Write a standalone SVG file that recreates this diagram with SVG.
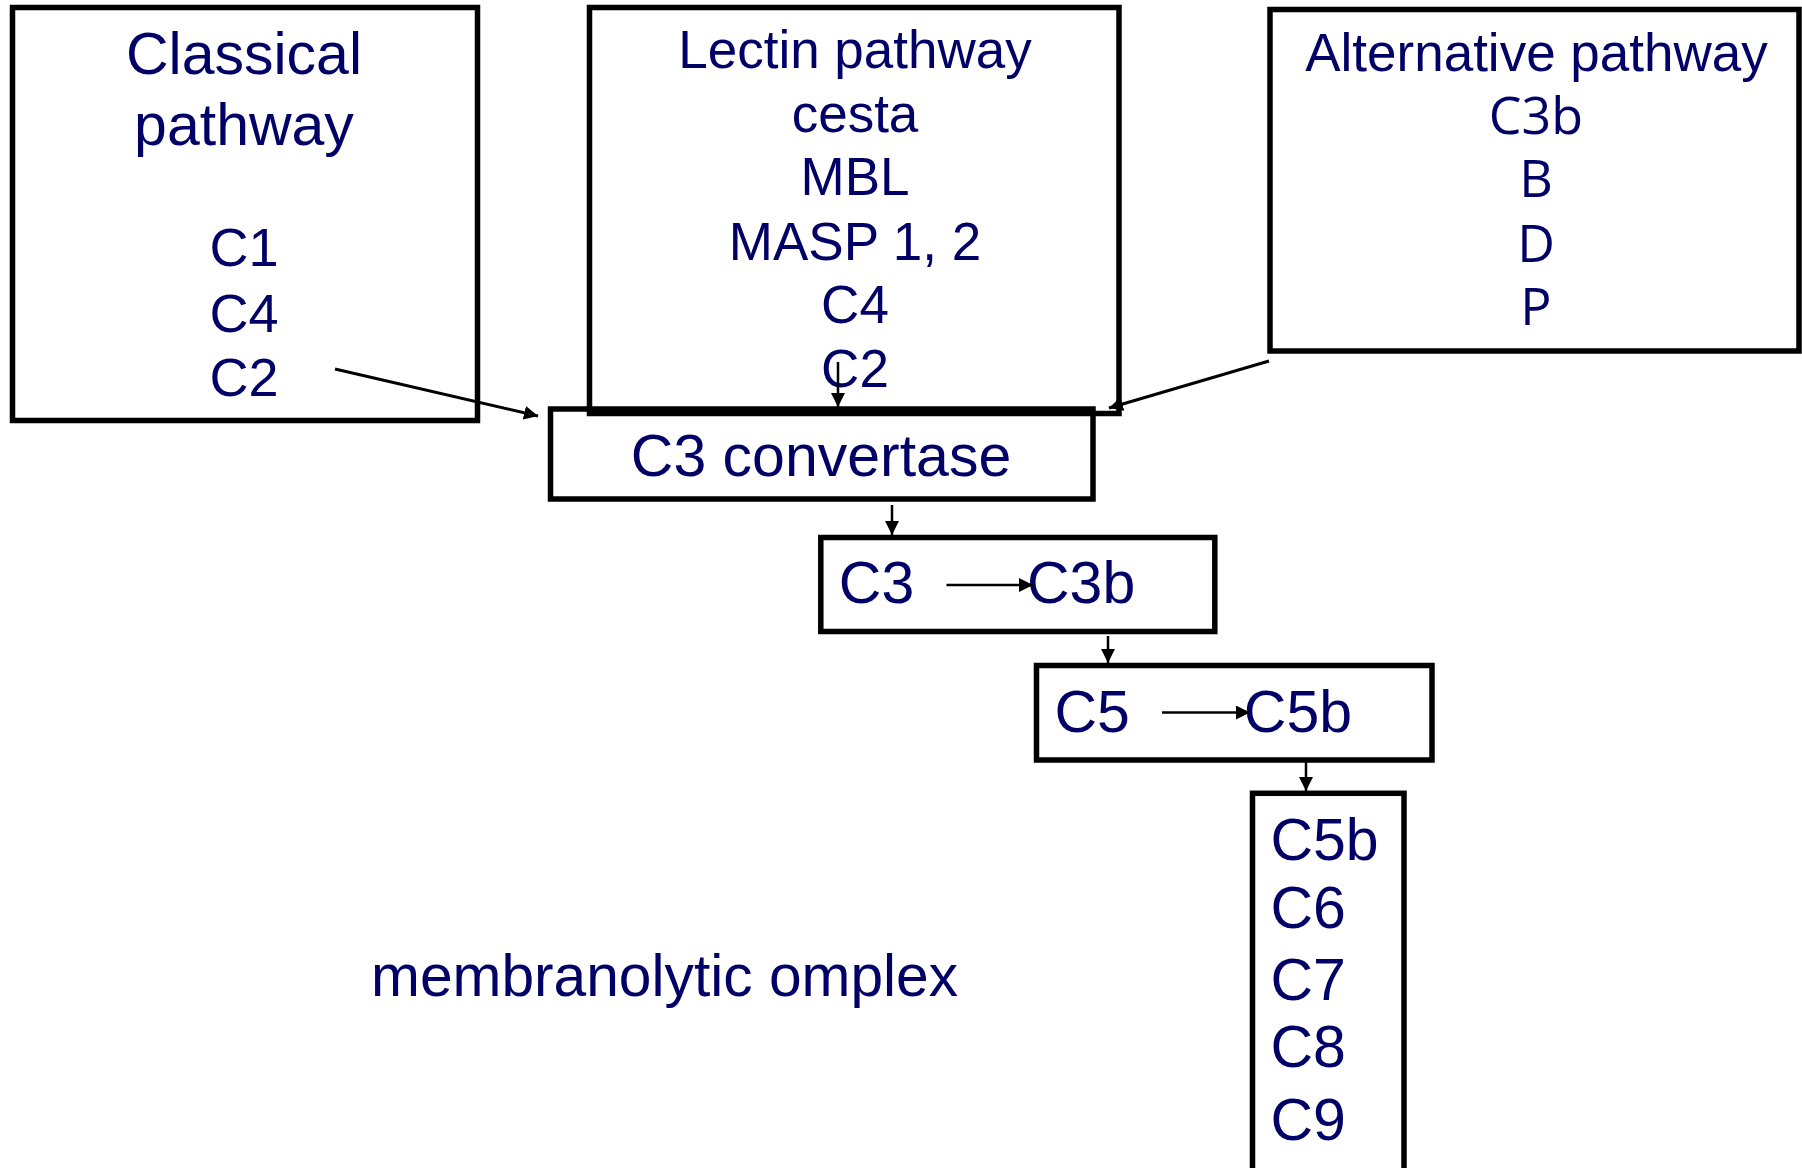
<svg xmlns="http://www.w3.org/2000/svg" width="1802" height="1168" viewBox="0 0 1802 1168">
<defs>
<style>
.box{fill:none;stroke:#000;stroke-width:5.5}
.t{font-family:"Liberation Sans",Arial,sans-serif;fill:#000066}
.m{text-anchor:middle}
.o{font-family:"Open Sans","Noto Sans",sans-serif;fill:#000066;text-anchor:middle}
.c{stroke:#000;stroke-width:2.5;fill:none}
.c3{stroke:#000;stroke-width:3;fill:none}
</style>
<marker id="ah" markerUnits="userSpaceOnUse" markerWidth="15" markerHeight="14" refX="14" refY="7" orient="auto">
<path d="M0,0 L14,7 L0,14 z" fill="#000"/>
</marker>
</defs>
<rect width="1802" height="1168" fill="#fff"/>

<g id="classical">
<rect class="box" x="12.5" y="7.5" width="465" height="413"/>
<text class="t m" x="244" y="74" font-size="59">Classical</text>
<text class="t m" x="244" y="145" font-size="59">pathway</text>
<text class="t m" x="244" y="266" font-size="54">C1</text>
<text class="t m" x="244" y="331.5" font-size="54">C4</text>
<text class="t m" x="244" y="395.5" font-size="54">C2</text>
</g>

<g id="lectin">
<rect class="box" x="589.5" y="7.5" width="529.5" height="406"/>
<text class="t m" x="855" y="68.3" font-size="53">Lectin pathway</text>
<text class="t m" x="855" y="131.7" font-size="53">cesta</text>
<text class="t m" x="855" y="195" font-size="53">MBL</text>
<text class="t m" x="855" y="260" font-size="53">MASP 1, 2</text>
<text class="t m" x="855" y="323.3" font-size="53">C4</text>
<text class="t m" x="855" y="387.3" font-size="53">C2</text>
</g>

<g id="alternative">
<rect class="box" x="1270" y="9.5" width="529" height="341.5"/>
<text class="t m" x="1536.5" y="70.7" font-size="53">Alternative pathway</text>
<text class="o" x="1536" y="133.5" font-size="52">C3b</text>
<text class="o" x="1536" y="197.3" font-size="52">B</text>
<text class="o" x="1536" y="261.7" font-size="52">D</text>
<text class="o" x="1536" y="325" font-size="52">P</text>
</g>

<g id="c3convertase">
<rect class="box" x="550.5" y="409" width="542.5" height="90"/>
<text class="t m" x="821" y="476" font-size="59">C3 convertase</text>
</g>

<g id="c3">
<rect class="box" x="820.8" y="537.5" width="394" height="94"/>
<text class="t" x="838.8" y="603.3" font-size="59">C3</text>
<text class="t" x="1027" y="603.3" font-size="59">C3b</text>
</g>

<g id="c5">
<rect class="box" x="1036.5" y="665.5" width="395.5" height="94.5"/>
<text class="t" x="1054.4" y="731.7" font-size="59">C5</text>
<text class="t" x="1243.8" y="731.7" font-size="59">C5b</text>
</g>

<g id="mac">
<rect class="box" x="1252.5" y="793.3" width="151.5" height="420"/>
<text class="t" x="1270.4" y="860" font-size="59">C5b</text>
<text class="t" x="1270.4" y="928.3" font-size="59">C6</text>
<text class="t" x="1270.4" y="1000" font-size="59">C7</text>
<text class="t" x="1270.4" y="1066.7" font-size="59">C8</text>
<text class="t" x="1270.4" y="1140" font-size="59">C9</text>
</g>

<g id="label">
<text class="t" x="371" y="996" font-size="58.7">membranolytic omplex</text>
</g>

<g id="connectors">
<line class="c3" x1="335" y1="369" x2="538" y2="416" marker-end="url(#ah)"/>
<line class="c" x1="838" y1="362" x2="838" y2="407" marker-end="url(#ah)"/>
<line class="c3" x1="1269" y1="361" x2="1109" y2="408" marker-end="url(#ah)"/>
<line class="c" x1="892" y1="505" x2="892" y2="535" marker-end="url(#ah)"/>
<line class="c" x1="946.5" y1="585" x2="1033" y2="585" marker-end="url(#ah)"/>
<line class="c" x1="1108" y1="636" x2="1108" y2="663" marker-end="url(#ah)"/>
<line class="c" x1="1162" y1="712.5" x2="1250" y2="712.5" marker-end="url(#ah)"/>
<line class="c" x1="1306" y1="762" x2="1306" y2="791" marker-end="url(#ah)"/>
</g>
</svg>
